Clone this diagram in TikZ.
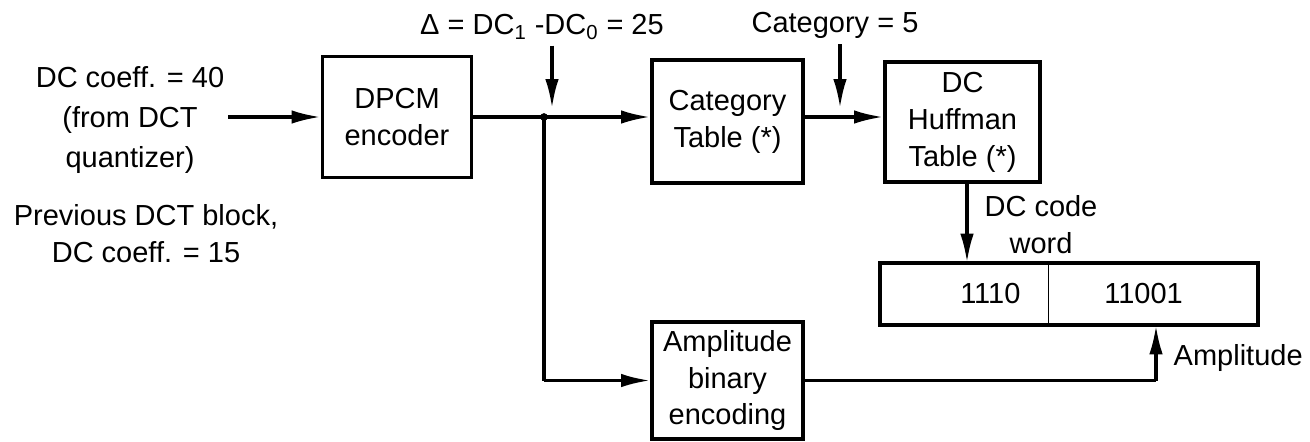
\documentclass[tikz,border=0pt]{standalone}
\usepackage{fontspec}
\setmainfont{Liberation Sans}
\usetikzlibrary{arrows.meta, positioning}

\begin{document}
\begin{tikzpicture}[
    every node/.style={font=\fontsize{16.5}{21}\selectfont},
    box/.style={rectangle, draw, line width=2.2pt, align=center, inner sep=2pt},
    cell/.style={rectangle, minimum height=1.24cm, inner sep=2pt},
    lbl/.style={align=center, inner sep=2pt},
    arr/.style={-{Latex[length=5.8mm,width=2.7mm]}, line width=1.8pt},
    wire/.style={line width=1.8pt},
]
    \useasboundingbox (0,0) rectangle (26.2,-8.82);

    % inputs
    \node[lbl, font=\fontsize{16.5}{22.7}\selectfont] (dcin) at (2.6,-2.4) {DC coeff. = 40\\(from DCT\\quantizer)};
    \node[lbl] (prev) at (2.92,-4.67) {Previous DCT block,\\DC coeff. = 15};

    % blocks
    \node[box, minimum width=2.98cm, minimum height=2.42cm] (dpcm) at (7.94,-2.34) {DPCM\\encoder};
    \node[box, minimum width=3.02cm, minimum height=2.46cm] (cat)  at (14.55,-2.43) {Category\\Table (*)};
    \node[box, minimum width=3.1cm,  minimum height=2.4cm]  (huff) at (19.25,-2.44) {DC\\Huffman\\Table (*)};
    \node[box, minimum width=3.02cm, minimum height=2.34cm] (amp)  at (14.55,-7.61) {Amplitude\\binary\\encoding};

    % code word
    \node[cell, minimum width=3.36cm, anchor=west] (cwa) at (17.6,-5.88) {\hspace*{1.04cm}1110};
    \node[cell, minimum width=4.18cm, right=0pt of cwa] (cwb) {11001\hspace*{0.4cm}};
    \draw[line width=2.2pt] (cwa.north west) rectangle (cwb.south east);
    \draw[line width=0.8pt] (cwa.north east) -- (cwa.south east);

    % labels
    \node (delta)  at (10.84,-0.54) {Δ = DC\textsubscript{1} -DC\textsubscript{0} = 25};
    \node (catval) at (16.7,-0.5) {Category = 5};
    \node[lbl] (dccw) at (20.82,-4.5) {DC code\\word};
    \node[anchor=west] (ampl) at (23.35,-7.16) {Amplitude};

    \coordinate (jn)    at (10.88,-2.34);
    \coordinate (jdown) at (10.88,-7.61);
    \coordinate (dtip)  at (11.04,-2.16);
    \coordinate (ctip)  at (16.8,-2.16);
    \coordinate (ampup) at (23.12,-7.61);

    \draw[arr]  (dcin.east |- dpcm.west) -- (dpcm.west);
    \draw[wire] (dpcm.east |- jn) -- (jn);
    \draw[arr]  (jn) -- (jn -| cat.west);
    \draw[arr]  (cat.east |- jn) -- (jn -| huff.west);
    \draw[arr]  (dtip |- delta.south) -- (dtip);
    \draw[arr]  (ctip |- catval.south) -- (ctip);
    \fill (jn) circle (2.2pt);
    \draw[wire] (jn) -- (jdown);
    \draw[arr]  (jdown) -- (amp.west);
    \draw[arr]  ([xshift=0.09cm]huff.south) -- ([xshift=0.09cm]huff.south |- cwa.north);
    \draw[wire] (amp.east) -- (ampup);
    \draw[arr]  (ampup) -- (ampup |- cwb.south);
\end{tikzpicture}
\end{document}
